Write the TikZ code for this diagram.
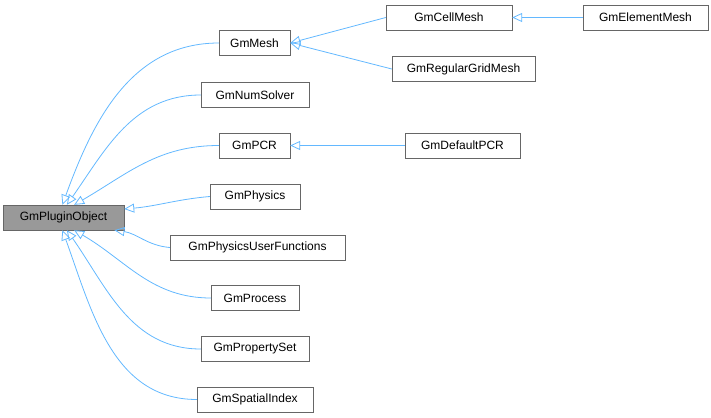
\documentclass[tikz,border=0pt]{standalone}
\usepackage{fontspec}
\setmainfont{Liberation Sans}
\usetikzlibrary{arrows.meta}
\definecolor{edgeblue}{HTML}{63B8FF}
\definecolor{boxgray}{HTML}{666666}
\definecolor{basegray}{HTML}{999999}
\tikzset{
  cls/.style={draw=boxgray, fill=white, minimum height=25, inner xsep=0, font=\fontsize{12}{14}\selectfont},
  base/.style={cls, fill=basegray},
  inh/.style={draw=edgeblue, line width=0.8, {Triangle[open, length=10, width=9]}-},
}
\begin{document}
\begin{tikzpicture}[x=1pt,y=-1pt]
  \useasboundingbox (0,0) rectangle (711,417);
  % base class
  \node[base, minimum width=121] (obj) at (63.5,217.5) {GmPluginObject};
  % direct children
  \node[cls, minimum width=71]  (mesh) at (254.5,43) {GmMesh};
  \node[cls, minimum width=108] (num)  at (255,95) {GmNumSolver};
  \node[cls, minimum width=71]  (pcr)  at (254.5,145.5) {GmPCR};
  \node[cls, minimum width=90]  (phys) at (255,196.5) {GmPhysics};
  \node[cls, minimum width=175] (puf)  at (257.5,247.5) {GmPhysicsUserFunctions};
  \node[cls, minimum width=88]  (proc) at (255,298) {GmProcess};
  \node[cls, minimum width=108] (pset) at (255,349) {GmPropertySet};
  \node[cls, minimum width=116] (sidx) at (255,399.5) {GmSpatialIndex};
  % grandchildren
  \node[cls, minimum width=126] (cell) at (449,17.5) {GmCellMesh};
  \node[cls, minimum width=143] (grid) at (463.5,69) {GmRegularGridMesh};
  \node[cls, minimum width=115] (dpcr) at (462.5,145.5) {GmDefaultPCR};
  \node[cls, minimum width=125] (elem) at (645.5,17.5) {GmElementMesh};
  % inheritance edges
  \draw[inh] (obj.95)  to[out=70,in=180] (mesh.west);
  \draw[inh] (obj.75)  to[out=55,in=180] (num.west);
  \draw[inh] (obj.50)  to[out=30,in=180] (pcr.west);
  \draw[inh] (obj.8)   to[out=5,in=185] (phys.west);
  \draw[inh] (obj.-14) to[out=-8,in=175] (puf.west);
  \draw[inh] (obj.-50) to[out=-30,in=180] (proc.west);
  \draw[inh] (obj.-75) to[out=-55,in=180] (pset.west);
  \draw[inh] (obj.-95) to[out=-70,in=180] (sidx.west);
  \draw[inh] (mesh.east) -- (cell.west);
  \draw[inh] (mesh.east) -- (grid.west);
  \draw[inh] (pcr.east) -- (dpcr.west);
  \draw[inh] (cell.east) -- (elem.west);
\end{tikzpicture}
\end{document}
